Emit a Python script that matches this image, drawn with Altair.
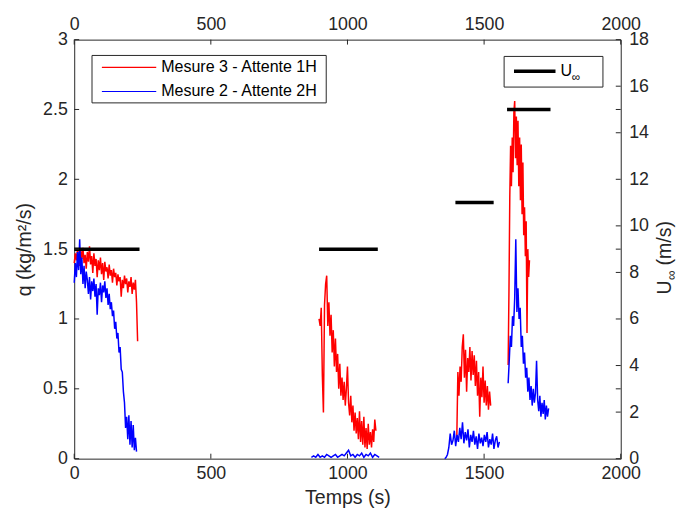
import altair as alt
import pandas as pd

# ---------------- data ----------------
series_names = ["Mesure 3 - Attente 1H", "Mesure 2 - Attente 2H"]
series_colors = ["#ff0000", "#0000ff"]

# Mesure 3 (red): first time (s), sampling step (s), q values (kg/m2/s)
red1_t0, red1_dt = 0, 4
red1_q = [1.40, 1.47, 1.42, 1.50, 1.44, 1.38, 1.49, 1.43, 1.51, 1.40,
          1.46, 1.36, 1.48, 1.41, 1.52, 1.39, 1.45, 1.33, 1.47, 1.38,
          1.43, 1.30, 1.42, 1.35, 1.44, 1.32, 1.40, 1.28, 1.41, 1.34,
          1.37, 1.29, 1.39, 1.31, 1.35, 1.26, 1.36, 1.30, 1.33, 1.24,
          1.32, 1.27, 1.30, 1.16, 1.28, 1.22, 1.31, 1.25, 1.29, 1.19,
          1.27, 1.23, 1.30, 1.18, 1.26, 1.21, 1.28, 1.12, 0.84]
red2_t0, red2_dt = 896, 4
red2_q = [1.00, 0.95, 1.08, 0.60, 0.33, 1.10, 1.25, 1.31, 0.95, 1.12,
          0.88, 1.03, 0.76, 0.92, 0.66, 0.86, 0.62, 0.75, 0.50, 0.68,
          0.45, 0.58, 0.42, 0.55, 0.38, 0.50, 0.66, 0.40, 0.31, 0.45,
          0.26, 0.38, 0.20, 0.33, 0.18, 0.29, 0.14, 0.34, 0.12, 0.27,
          0.10, 0.30, 0.08, 0.22, 0.07, 0.25, 0.10, 0.19, 0.08, 0.21,
          0.12, 0.28, 0.20]
red3_t0, red3_dt = 1400, 4
red3_q = [0.14, 0.62, 0.45, 0.66, 0.55, 0.80, 0.89, 0.58, 0.78, 0.48,
          0.72, 0.62, 0.80, 0.56, 0.77, 0.60, 0.74, 0.52, 0.70, 0.45,
          0.62, 0.30, 0.58, 0.44, 0.66, 0.40, 0.56, 0.38, 0.52, 0.35,
          0.48, 0.38]
red4_t0, red4_dt = 1588, 3
red4_q = [0.67, 1.20, 1.87, 2.24, 1.95, 2.30, 2.05, 2.48, 2.56, 2.15,
          2.45, 2.10, 2.42, 1.95, 2.30, 1.85, 2.25, 1.75, 2.12, 1.60,
          1.80, 1.45, 1.70, 0.90, 1.50, 1.30, 1.42]

# Mesure 2 (blue)
blue1_t0, blue1_dt = 0, 4
blue1_q = [1.26, 1.40, 1.30, 1.48, 1.35, 1.57, 1.32, 1.44, 1.25, 1.38,
           1.22, 1.34, 1.28, 1.18, 1.30, 1.14, 1.27, 1.20, 1.29, 1.16,
           1.25, 1.03, 1.22, 1.17, 1.26, 1.12, 1.24, 1.19, 1.27, 1.15,
           1.22, 1.10, 1.18, 1.07, 1.12, 1.02, 1.06, 0.93, 0.98, 0.86,
           0.90, 0.76, 0.80, 0.64, 0.62, 0.48, 0.40, 0.22, 0.30, 0.14,
           0.31, 0.10, 0.27, 0.08, 0.24, 0.06, 0.15, 0.05]
blue2_t0, blue2_dt = 868, 8
blue2_q = [0.01, 0.02, 0.01, 0.03, 0.01, 0.02, 0.01, 0.03, 0.02, 0.01,
           0.02, 0.03, 0.01, 0.02, 0.03, 0.02, 0.04, 0.06, 0.02, 0.03,
           0.01, 0.03, 0.02, 0.04, 0.01, 0.03, 0.02, 0.04, 0.01, 0.03,
           0.02, 0.01]
blue3_t0, blue3_dt = 1356, 5
blue3_q = [0.00, 0.01, 0.03, 0.08, 0.18, 0.10, 0.13, 0.20, 0.09, 0.17,
           0.12, 0.22, 0.14, 0.26, 0.11, 0.19, 0.13, 0.21, 0.08, 0.17,
           0.12, 0.20, 0.10, 0.16, 0.07, 0.18, 0.11, 0.15, 0.09, 0.17,
           0.12, 0.19, 0.08, 0.14, 0.10, 0.18, 0.07, 0.13, 0.16, 0.08,
           0.12]
blue4_t0, blue4_dt = 1588, 4
blue4_q = [0.54, 0.70, 0.88, 0.80, 1.02, 0.95, 1.15, 1.57, 1.05, 1.22,
           1.00, 1.08, 0.80, 0.88, 0.68, 0.76, 0.58, 0.65, 0.48, 0.58,
           0.42, 0.52, 0.38, 0.50, 0.40, 0.47, 0.70, 0.42, 0.34, 0.45,
           0.30, 0.40, 0.32, 0.42, 0.28, 0.38, 0.30, 0.36]

# free-stream velocity steps (m/s)
u_start = [0, 896, 1395, 1584]
u_end = [239, 1111, 1535, 1743]
u_value = [9, 9, 11, 15]

x_ticks = [0, 500, 1000, 1500, 2000]
q_ticks = [0, 0.5, 1, 1.5, 2, 2.5, 3]
u_ticks = [0, 2, 4, 6, 8, 10, 12, 14, 16, 18]
u_mirror_ticks = [3, 9, 15]

# ---------------- tables ----------------
segments = {
    series_names[0]: [(red1_t0, red1_dt, red1_q), (red2_t0, red2_dt, red2_q),
                      (red3_t0, red3_dt, red3_q), (red4_t0, red4_dt, red4_q)],
    series_names[1]: [(blue1_t0, blue1_dt, blue1_q), (blue2_t0, blue2_dt, blue2_q),
                      (blue3_t0, blue3_dt, blue3_q), (blue4_t0, blue4_dt, blue4_q)],
}
rows = []
for name in series_names:
    for k, (t0, dt, vals) in enumerate(segments[name]):
        for i, v in enumerate(vals):
            rows.append({"t": t0 + i * dt, "q": v, "series": name, "seg": f"{name}-{k}"})
df = pd.DataFrame(rows)
udf = pd.DataFrame({"t0": u_start, "t1": u_end, "U": u_value})

W, H = 553, 424
FONT = "Liberation Sans"
AX = "#262626"

xs = alt.Scale(domain=[0, 2000], nice=False, zero=False)
qs = alt.Scale(domain=[0, 3], nice=False, zero=False)
us = alt.Scale(domain=[0, 18], nice=False, zero=False)

ax = dict(labelFont=FONT, labelFontSize=18, labelColor=AX, ticks=False, domain=False,
          grid=False, titleFont=FONT, titleFontSize=19.8, titleFontWeight="normal",
          titleColor=AX)

lines = alt.Chart(df).mark_line(strokeWidth=1.5).encode(
    x=alt.X("t:Q", scale=xs, axis=alt.Axis(values=x_ticks, format="d", title="Temps (s)",
                                           orient="bottom", labelPadding=6, titlePadding=5,
                                           labelFlush=False, **ax)),
    y=alt.Y("q:Q", scale=qs, axis=alt.Axis(values=q_ticks, format="~g", title="q (kg/m²/s)",
                                           orient="left", labelPadding=7, titlePadding=8, **ax)),
    color=alt.Color("series:N", scale=alt.Scale(domain=series_names, range=series_colors),
                    legend=None),
    detail="seg:N",
)

urules = alt.Chart(udf).mark_rule(strokeWidth=3.5, color="black").encode(
    x=alt.X("t0:Q", scale=xs, axis=alt.Axis(values=x_ticks, format="d", title=None,
                                            orient="top", labelPadding=6, labelFlush=False, **ax)),
    x2="t1:Q",
    y=alt.Y("U:Q", scale=us, axis=alt.Axis(values=u_ticks, title=None, orient="right",
                                           labelPadding=8, **ax)),
)

tick_x = pd.DataFrame({"t": x_ticks})
bticks = alt.Chart(tick_x).mark_rule(color=AX, strokeWidth=1).encode(
    x=alt.X("t:Q", scale=xs, axis=None), y=alt.value(H), y2=alt.value(H - 5))
tticks = alt.Chart(tick_x).mark_rule(color=AX, strokeWidth=1).encode(
    x=alt.X("t:Q", scale=xs, axis=None), y=alt.value(0), y2=alt.value(5))
lticks = alt.Chart(pd.DataFrame({"q": q_ticks})).mark_rule(color=AX, strokeWidth=1).encode(
    y=alt.Y("q:Q", scale=qs, axis=None), x=alt.value(0), x2=alt.value(5))
rticks = alt.Chart(pd.DataFrame({"U": u_ticks + u_mirror_ticks})).mark_rule(
    color=AX, strokeWidth=1).encode(
    y=alt.Y("U:Q", scale=us, axis=None), x=alt.value(W), x2=alt.value(W - 5))

one = pd.DataFrame({"k": [0]})

# legend for the measurements
leg_layers = [alt.Chart(one).mark_rect(fill="white", stroke=AX, strokeWidth=1).encode(
    x=alt.value(18), x2=alt.value(255), y=alt.value(16), y2=alt.value(64))]
for i, (name, col) in enumerate(zip(series_names, series_colors)):
    yy = 28 + i * 24.5
    leg_layers.append(alt.Chart(one).mark_rule(color=col, strokeWidth=1.2).encode(
        x=alt.value(28), x2=alt.value(83), y=alt.value(yy)))
    leg_layers.append(alt.Chart(one).mark_text(
        text=name, align="left", baseline="middle", font=FONT, fontSize=16.2,
        color="black").encode(x=alt.value(88), y=alt.value(yy)))

# legend for U_inf
leg_layers += [
    alt.Chart(one).mark_rect(fill="white", stroke=AX, strokeWidth=1).encode(
        x=alt.value(435), x2=alt.value(535), y=alt.value(17), y2=alt.value(48)),
    alt.Chart(one).mark_rule(color="black", strokeWidth=3.5).encode(
        x=alt.value(445), x2=alt.value(487), y=alt.value(32)),
    alt.Chart(one).mark_text(text="U", align="left", baseline="middle", font=FONT,
                             fontSize=16.2, color="black").encode(
        x=alt.value(492), y=alt.value(32)),
    alt.Chart(one).mark_text(text="∞", align="left", baseline="middle", font=FONT,
                             fontSize=12, color="black").encode(
        x=alt.value(503.5), y=alt.value(37.5)),
]

# right axis title  U∞ (m/s)
rt = [
    alt.Chart(one).mark_text(text="U", angle=270, align="left", baseline="alphabetic",
                             font=FONT, fontSize=19.8, color=AX).encode(
        x=alt.value(604), y=alt.value(258)),
    alt.Chart(one).mark_text(text="∞", angle=270, align="left", baseline="alphabetic",
                             font=FONT, fontSize=13.9, color=AX).encode(
        x=alt.value(608.5), y=alt.value(243.5)),
    alt.Chart(one).mark_text(text="(m/s)", angle=270, align="left", baseline="alphabetic",
                             font=FONT, fontSize=19.8, color=AX).encode(
        x=alt.value(604), y=alt.value(228.5)),
]

chart = alt.layer(
    lines, urules, bticks, tticks, lticks, rticks, *leg_layers, *rt
).resolve_scale(y="independent").resolve_axis(x="independent", y="independent").properties(
    width=W, height=H, autosize="none",
    padding={"left": 67, "top": 29, "right": 62, "bottom": 54},
    background="white",
).configure_view(stroke=AX, strokeWidth=1)

chart.save("out.html", embed_options={"renderer": "svg", "actions": False})
